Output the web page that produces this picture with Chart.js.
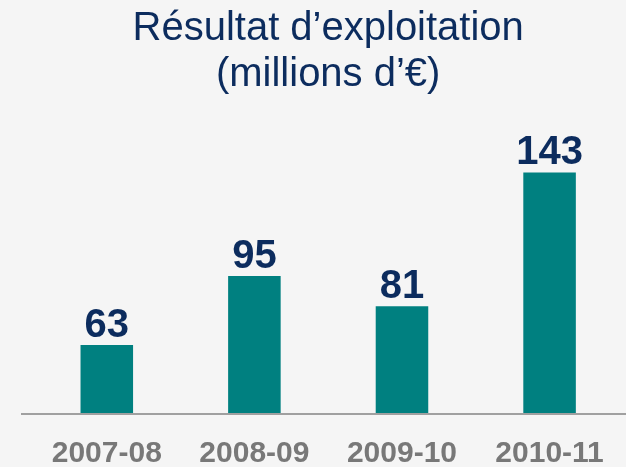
<!DOCTYPE html>
<html>
<head>
<meta charset="utf-8">
<script src="https://cdn.jsdelivr.net/npm/chart.js@4"></script>
<style>
  html, body { margin: 0; padding: 0; background: #f5f5f5; overflow: hidden; }
  /* canvas a bit larger than the window so the plot area lands where the original has it */
  #wrap { width: 629px; height: 493px; position: relative; }
</style>
</head>
<body>
<div id="wrap"><canvas id="chart"></canvas></div>
<script>
const titleLines = ["Résultat d’exploitation", "(millions d’€)"];
const periods = ["2007-08", "2008-09", "2009-10", "2010-11"];
const operatingResult = [63, 95, 81, 143];

const navy = "#0c2c5e";
const teal = "#008080";

// value labels above each bar
const valueLabels = {
  id: "valueLabels",
  afterDatasetsDraw(chart) {
    const ctx = chart.ctx;
    const meta = chart.getDatasetMeta(0);
    ctx.save();
    ctx.fillStyle = navy;
    ctx.font = "bold 40px 'Liberation Sans', Arial, sans-serif";
    ctx.textAlign = "center";
    ctx.textBaseline = "alphabetic";
    meta.data.forEach((bar, i) => {
      ctx.fillText(String(operatingResult[i]), bar.x, bar.y - 8);
    });
    ctx.restore();
  }
};

// baseline under the bars, starting a little left of the plot area
const baseLine = {
  id: "baseLine",
  afterDatasetsDraw(chart) {
    const ctx = chart.ctx;
    const y = chart.scales.y.getPixelForValue(chart.scales.y.min);
    ctx.save();
    ctx.strokeStyle = "#a0a0a0";
    ctx.lineWidth = 2;
    ctx.beginPath();
    ctx.moveTo(21, y);
    ctx.lineTo(chart.width, y);
    ctx.stroke();
    ctx.restore();
  }
};

const ctx = document.getElementById("chart").getContext("2d");
new Chart(ctx, {
  type: "bar",
  data: {
    labels: periods,
    datasets: [{
      data: operatingResult,
      backgroundColor: teal,
      borderWidth: 0,
      barPercentage: 0.356,
      categoryPercentage: 1
    }]
  },
  options: {
    responsive: true,
    maintainAspectRatio: false,
    animation: false,
    layout: { padding: { left: 33, right: 0, top: 0, bottom: 0 } },
    plugins: {
      legend: { display: false },
      tooltip: { enabled: false },
      title: {
        display: true,
        text: titleLines,
        fullSize: false,
        color: navy,
        font: { family: "'Liberation Sans', Arial, sans-serif", size: 40, weight: "normal", lineHeight: 1.15 },
        padding: { top: 6, bottom: 0 }
      }
    },
    scales: {
      x: {
        grid: { display: false, drawTicks: false },
        border: { display: false },
        ticks: {
          color: "#787878",
          padding: 24.5,
          font: { family: "'Liberation Sans', Arial, sans-serif", size: 30, weight: "bold", lineHeight: 1 }
        }
      },
      y: {
        display: false,
        min: 31,
        max: 177.5
      }
    }
  },
  plugins: [valueLabels, baseLine]
});
</script>
</body>
</html>
